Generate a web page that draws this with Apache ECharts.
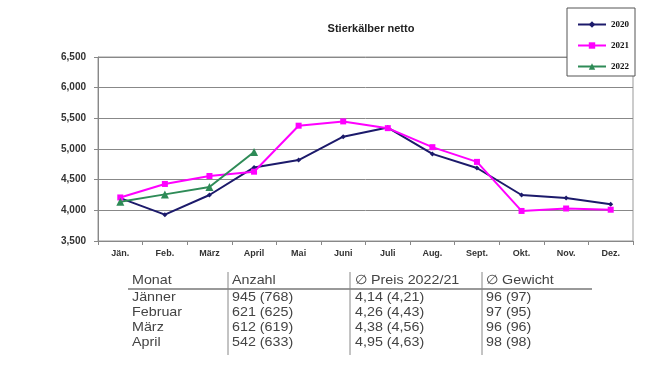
<!DOCTYPE html>
<html><head><meta charset="utf-8">
<script src="https://cdn.jsdelivr.net/npm/echarts@6/dist/echarts.min.js"></script>
<style>html,body{margin:0;padding:0;background:#fff}#c{width:672px;height:385px}</style>
</head><body><div id="c"></div>
<script>
const months = ["Jän.","Feb.","März","April","Mai","Juni","Juli","Aug.","Sept.","Okt.","Nov.","Dez."];
const s2020 = [4200,3930,4250,4700,4820,5200,5350,4920,4690,4250,4200,4100];
const s2021 = [4210,4430,4560,4630,5380,5450,5340,5030,4790,3990,4030,4010];
const s2022 = [4140,4260,4380,4950];
const tableHeader = ["Monat","Anzahl","\u2205 Preis 2022/21","\u2205 Gewicht"];
const tableMonat = ["Jänner","Februar","März","April"];
const tableAnzahl = ["945 (768)","621 (625)","612 (619)","542 (633)"];
const tablePreis = ["4,14 (4,21)","4,26 (4,43)","4,38 (4,56)","4,95 (4,63)"];
const tableGewicht = ["96 (97)","97 (95)","96 (96)","98 (98)"];

const chart = echarts.init(document.getElementById('c'));
const font = 'Liberation Sans, Arial, sans-serif';
const colX = [132, 232, 355, 486];
const rowY = [297, 312, 327, 342];
const graphics = [];
function txt(t,x,y){
  return {type:'text',x:x,y:y,scaleX:1.1,style:{text:t,font:'13px '+font,fill:'#444',textVerticalAlign:'middle',verticalAlign:'middle'}};
}
tableHeader.forEach((t,i)=>graphics.push(txt(t,colX[i],280)));
const cols=[tableMonat,tableAnzahl,tablePreis,tableGewicht];
cols.forEach((col,i)=>col.forEach((t,j)=>graphics.push(txt(t,colX[i],rowY[j]))));
graphics.push({type:'line',shape:{x1:128,y1:289,x2:592,y2:289},style:{stroke:'#777',lineWidth:1.5}});
[228,350,482].forEach(x=>graphics.push({type:'line',shape:{x1:x,y1:272,x2:x,y2:355},style:{stroke:'#888',lineWidth:1}}));
graphics.push({type:'rect',shape:{x:567,y:8,width:68,height:68},style:{fill:'#fff',stroke:'#555',lineWidth:1},z:5});

chart.setOption({
  animation:false,
  title:{text:'Stierkälber netto',left:366,top:18,textAlign:'center',textStyle:{fontSize:11,fontWeight:'bold',color:'#222',fontFamily:font}},
  legend:{orient:'vertical',left:572,top:15,itemGap:12,itemWidth:28,itemHeight:8,z:10,
    textStyle:{fontSize:9,fontWeight:'bold',color:'#111',fontFamily:'Liberation Serif, serif'},
    data:['2020','2021','2022']},
  grid:{left:98,right:39,top:57,bottom:144,show:true,borderColor:'#999',borderWidth:1},
  xAxis:{type:'category',data:months,boundaryGap:true,
    axisLine:{lineStyle:{color:'#888'}},axisTick:{show:true,lineStyle:{color:'#888'},length:4},
    axisLabel:{fontSize:9,fontWeight:'bold',color:'#333',fontFamily:font,margin:8}},
  yAxis:{type:'value',min:3500,max:6500,interval:500,
    axisLine:{show:true,lineStyle:{color:'#888'}},axisTick:{show:true,lineStyle:{color:'#888'},length:4},
    splitLine:{lineStyle:{color:'#888',width:1}},
    axisLabel:{fontSize:10,fontWeight:'bold',color:'#333',fontFamily:font,margin:12,
      formatter:v=>v.toLocaleString('en-US')}},
  series:[
    {name:'2020',type:'line',data:s2020,color:'#1c1a6b',symbol:'diamond',symbolSize:5,lineStyle:{width:2}},
    {name:'2021',type:'line',data:s2021,color:'#ff00ff',symbol:'rect',symbolSize:6,lineStyle:{width:2}},
    {name:'2022',type:'line',data:s2022,color:'#2e8b57',symbol:'triangle',symbolSize:8,lineStyle:{width:2}}
  ],
  graphic:graphics
});
</script></body></html>
